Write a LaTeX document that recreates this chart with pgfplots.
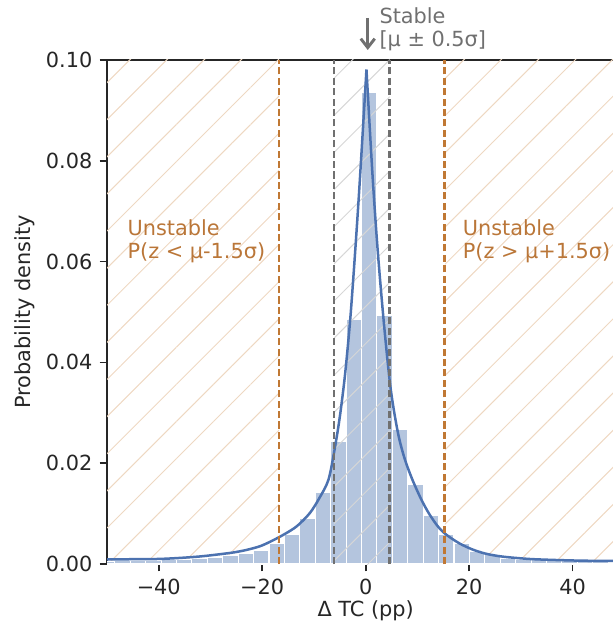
\documentclass[border=0pt]{standalone}
\usepackage{pgfplots}
\pgfplotsset{compat=1.18}
\usepackage{fontspec}
\setmainfont{DejaVu Sans}
\usetikzlibrary{patterns.meta,arrows.meta}
\definecolor{cblue}{RGB}{76,114,176}
\definecolor{cbar}{RGB}{180,197,222}
\definecolor{corange}{RGB}{192,120,52}
\definecolor{ctext}{RGB}{186,118,56}
\definecolor{chatch}{RGB}{238,216,194}
\definecolor{cghatch}{RGB}{214,214,214}
\definecolor{cgray}{RGB}{112,112,112}
\definecolor{cdark}{RGB}{38,38,38}
\begin{document}
\begin{tikzpicture}
\begin{axis}[
  name=ax,
  scale only axis, width=242.88pt, height=241.92pt,
  xmin=-50, xmax=47.8, ymin=0, ymax=0.1,
  axis x line*=box, axis y line*=left,
  tick pos=left,
  tick align=outside, major tick length=3.5pt,
  xtick={-40,-20,0,20,40}, xticklabels={−40,−20,0,20,40},
  ytick={0,0.02,0.04,0.06,0.08,0.1}, yticklabels={0.00,0.02,0.04,0.06,0.08,0.10},
  ticklabel style={font=\fontsize{10}{12}\selectfont, text=cdark},
  tick style={cdark, line width=0.8pt},
  axis line style={cdark, line width=0.8pt},
  xlabel={Δ TC (pp)}, ylabel={Probability density},
  label style={font=\fontsize{10}{12}\selectfont, text=cdark},
  xlabel style={at={(axis description cs:0.5112,-0.0933)}, anchor=center},
  ylabel style={at={(axis description cs:-0.162,0.5)}, anchor=center},
  clip mode=individual,
]
% unstable hatches
\addplot[draw=none, pattern={Lines[angle=45,distance=12.6pt,line width=0.5pt]}, pattern color=chatch]
  coordinates {(-50,0.1) (-16.75,0.1)} \closedcycle;
\addplot[draw=none, pattern={Lines[angle=45,distance=12.6pt,line width=0.5pt]}, pattern color=chatch]
  coordinates {(15.3,0.1) (50,0.1)} \closedcycle;
% histogram
\addplot[ybar interval, fill=cbar, draw=white, line width=0.5pt] coordinates {
(-51.47,0.0005) (-48.49,0.0006) (-45.51,0.0006) (-42.53,0.0007) (-39.55,0.0008)
(-36.57,0.0009) (-33.59,0.0011) (-30.61,0.0013) (-27.63,0.0016) (-24.65,0.0021)
(-21.67,0.0026) (-18.69,0.0040) (-15.71,0.0059) (-12.73,0.0091) (-9.75,0.0141)
(-6.77,0.0243) (-3.79,0.0486) (-0.81,0.0936) (2.17,0.0494) (5.15,0.0267)
(8.13,0.0157) (11.11,0.0097) (14.09,0.0058) (17.07,0.0041) (20.05,0.0024)
(23.03,0.0018) (26.01,0.0011) (28.99,0.0009) (31.97,0.0008) (34.95,0.0007)
(37.93,0.0006) (40.91,0.0005) (43.89,0.0005) (46.87,0.0004) (49.85,0)
};
% stable hatch
\addplot[draw=none, pattern={Lines[angle=45,distance=12.6pt,line width=0.5pt]}, pattern color=cghatch]
  coordinates {(-6.1,0.1) (4.64,0.1)} \closedcycle;
% fitted curve (left half and right half)
\addplot[cblue, line width=1.2pt, smooth, tension=0.5] coordinates {
(-50,0.0009) (-45,0.00095) (-40,0.0010) (-36,0.0012) (-32,0.0015) (-28.5,0.0019)
(-25.5,0.0023) (-23,0.0028) (-20.5,0.0035) (-18.5,0.0044) (-15.9,0.0058)
(-13.3,0.0075) (-10.8,0.0101) (-9.0,0.0130) (-7.2,0.0167) (-6.0,0.0228)
(-5.0,0.0292) (-4.0,0.0375) (-3.0,0.0484) (-2.1,0.0610) (-1.2,0.0750) (0.15,0.0981)
};
\addplot[cblue, line width=1.2pt, smooth, tension=0.5] coordinates {
(0.15,0.0981) (1.3,0.0775) (2.3,0.0625) (3.5,0.0480) (4.8,0.0350) (6.2,0.0262)
(7.5,0.0210) (9.0,0.0168) (10.75,0.0128) (12.3,0.0099) (14.0,0.0074) (15.6,0.0058)
(18.1,0.0041) (20.6,0.0029) (23,0.0021) (25.5,0.0016) (28,0.0013) (31.6,0.0010)
(35,0.00085) (40,0.0007) (44,0.00063) (48,0.0006)
};
% dashed lines
\addplot[cgray, dash pattern=on 3.4pt off 1.6pt, line width=1.3pt] coordinates {(-6.1,0) (-6.1,0.1)};
\addplot[cgray, dash pattern=on 3.4pt off 1.6pt, line width=1.3pt] coordinates {(4.64,0) (4.64,0.1)};
\addplot[corange, dash pattern=on 3.4pt off 1.6pt, line width=1.3pt] coordinates {(-16.75,0) (-16.75,0.1)};
\addplot[corange, dash pattern=on 3.4pt off 1.6pt, line width=1.3pt] coordinates {(15.3,0) (15.3,0.1)};
% texts
\node[anchor=west, align=left, text=ctext, font=\fontsize{10}{11}\selectfont, inner sep=0pt]
  at (axis cs:-46.1,0.0641) {Unstable\\P(z < μ-1.5σ)};
\node[anchor=west, align=left, text=ctext, font=\fontsize{10}{11}\selectfont, inner sep=0pt]
  at (axis cs:18.7,0.0641) {Unstable\\P(z > μ+1.5σ)};
\draw[cgray, line width=1.4pt, -{Straight Barb[length=4.3pt,width=6.7pt]}]
  ([yshift=20.2pt]axis cs:0.4,0.1) -- ([yshift=4.8pt]axis cs:0.4,0.1);
\node[anchor=west, align=left, text=cgray, font=\fontsize{10}{11}\selectfont, inner sep=0pt]
  at ([yshift=14.6pt]axis cs:2.6,0.1) {Stable\\{[μ ± 0.5σ]}};
\end{axis}
\pgfresetboundingbox
\path ([xshift=-51.36pt,yshift=-34.08pt]ax.south west) rectangle ([yshift=28.8pt]ax.north east);
\end{tikzpicture}
\end{document}
